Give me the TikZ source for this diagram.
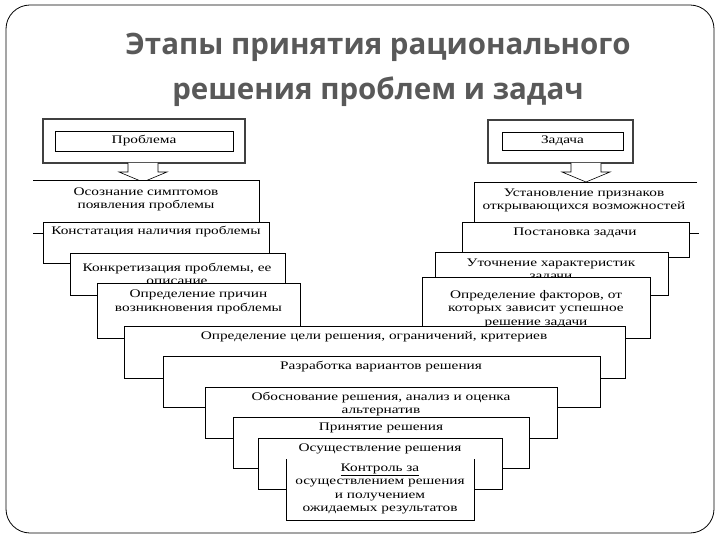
\documentclass[tikz,border=0pt]{standalone}
\usepackage{fontspec}
\setmainfont{Liberation Serif}
\newfontfamily\boxfont[FakeStretch=1.32]{Liberation Serif}
\newfontfamily\titlefont{Open Sans}
\definecolor{titlegray}{HTML}{595959}
\tikzset{
  frame/.style={draw=black, line width=0.8pt},
  stagebox/.style={draw=black, fill=white, line width=0.7pt},
  whitebox/.style={fill=white},
  edge/.style={draw=black, line width=0.7pt},
  label/.style={font=\boxfont\fontsize{11.6}{13.6}\selectfont, align=center, inner sep=0pt},
  headbox/.style={draw=black!75, line width=1.3pt},
  arrowshape/.style={draw=black, fill=white, line width=0.6pt},
  titletext/.style={font=\titlefont\bfseries\fontsize{29.5}{45}\selectfont, text=titlegray, align=center, inner sep=0pt}
}
\begin{document}
\begin{tikzpicture}[x=1pt, y=-1pt]
\useasboundingbox (0,0) rectangle (720,540);
% slide frame
\draw[frame, rounded corners=24pt] (6,5) rectangle (714,533);
% title
\node[titletext] (title) at (378,70) {Этапы принятия рационального\\решения проблем и задач};

% ---------- left column ----------
\draw[headbox] (43,119) rectangle (245,163);
\node[draw=black, line width=0.7pt, minimum width=178pt, minimum height=20pt, inner sep=0pt, font=\boxfont\fontsize{11.6}{13.6}\selectfont] (prob) at (144,141) {Проблема};
\draw[arrowshape] (128,163) -- (128,172) -- (119,172) -- (143,182) -- (167,172) -- (158,172) -- (158,163);

% B1
\path[whitebox] (33,180) rectangle (259,245);
\draw[edge] (33,180) -- (259,180) -- (259,222);
\node[label] (b1) at (146,199.5) {Осознание симптомов\\появления проблемы};
% B2
\draw[stagebox] (43,222) rectangle (269,263);
\draw[edge] (33,233) -- (43,233);
\node[label] (b2) at (156,231.5) {Констатация наличия проблемы};
% B3
\draw[stagebox] (70,253) rectangle (285,295);
\node[label] (b3) at (177,274) {Конкретизация проблемы, ее\\описание};
% B4
\draw[stagebox] (97,283) rectangle (300,338);
\node[label] (b4) at (198.5,302) {Определение причин\\возникновения проблемы};

% ---------- right column ----------
\draw[headbox] (488,120) rectangle (633,163);
\node[draw=black, line width=0.7pt, minimum width=121pt, minimum height=18pt, inner sep=0pt, font=\boxfont\fontsize{11.6}{13.6}\selectfont] (task) at (562.5,141) {Задача};
\draw[arrowshape] (571,163) -- (571,172) -- (562,172) -- (586,182) -- (610,172) -- (601,172) -- (601,163);

% R1
\path[whitebox] (474,182) rectangle (700,245);
\draw[edge] (697,182) -- (474,182) -- (474,222);
\node[label] (r1) at (584,200.5) {Установление признаков\\открывающихся возможностей};
% R2
\draw[stagebox] (462,222) rectangle (689,257);
\draw[edge] (689,233) -- (699,233);
\node[label] (r2) at (575,232.5) {Постановка задачи};
% R3
\draw[stagebox] (435,252) rectangle (668,295);
\node[label] (r3) at (551,270.5) {Уточнение характеристик\\задачи};
% R4
\draw[stagebox] (422,277) rectangle (650,338);
\node[label] (r4) at (536,309) {Определение факторов, от\\которых зависит успешное\\решение задачи};

% ---------- centre ----------
\draw[stagebox] (124,326) rectangle (625,378);
\node[label] (b5) at (374,337) {Определение цели решения, ограничений, критериев};
\draw[stagebox] (163,356) rectangle (600,407);
\node[label] (b6) at (381,366.5) {Разработка вариантов решения};
\draw[stagebox] (205,387) rectangle (557,438);
\node[label] (b7) at (381,404) {Обоснование решения, анализ и оценка\\альтернатив};
\draw[stagebox] (233,417) rectangle (529,468);
\node[label] (b8) at (381,427.5) {Принятие решения};
\draw[stagebox] (258,438) rectangle (502,489);
\node[label] (b9) at (380,448.5) {Осуществление решения};
\path[whitebox] (286,459) rectangle (474,520);
\draw[edge] (286,459) -- (286,520) -- (474,520) -- (474,459);
\node[label] (b10) at (380,489) {\underline{Контроль за}\\осуществлением решения\\и получением\\ожидаемых результатов};
\end{tikzpicture}
\end{document}
